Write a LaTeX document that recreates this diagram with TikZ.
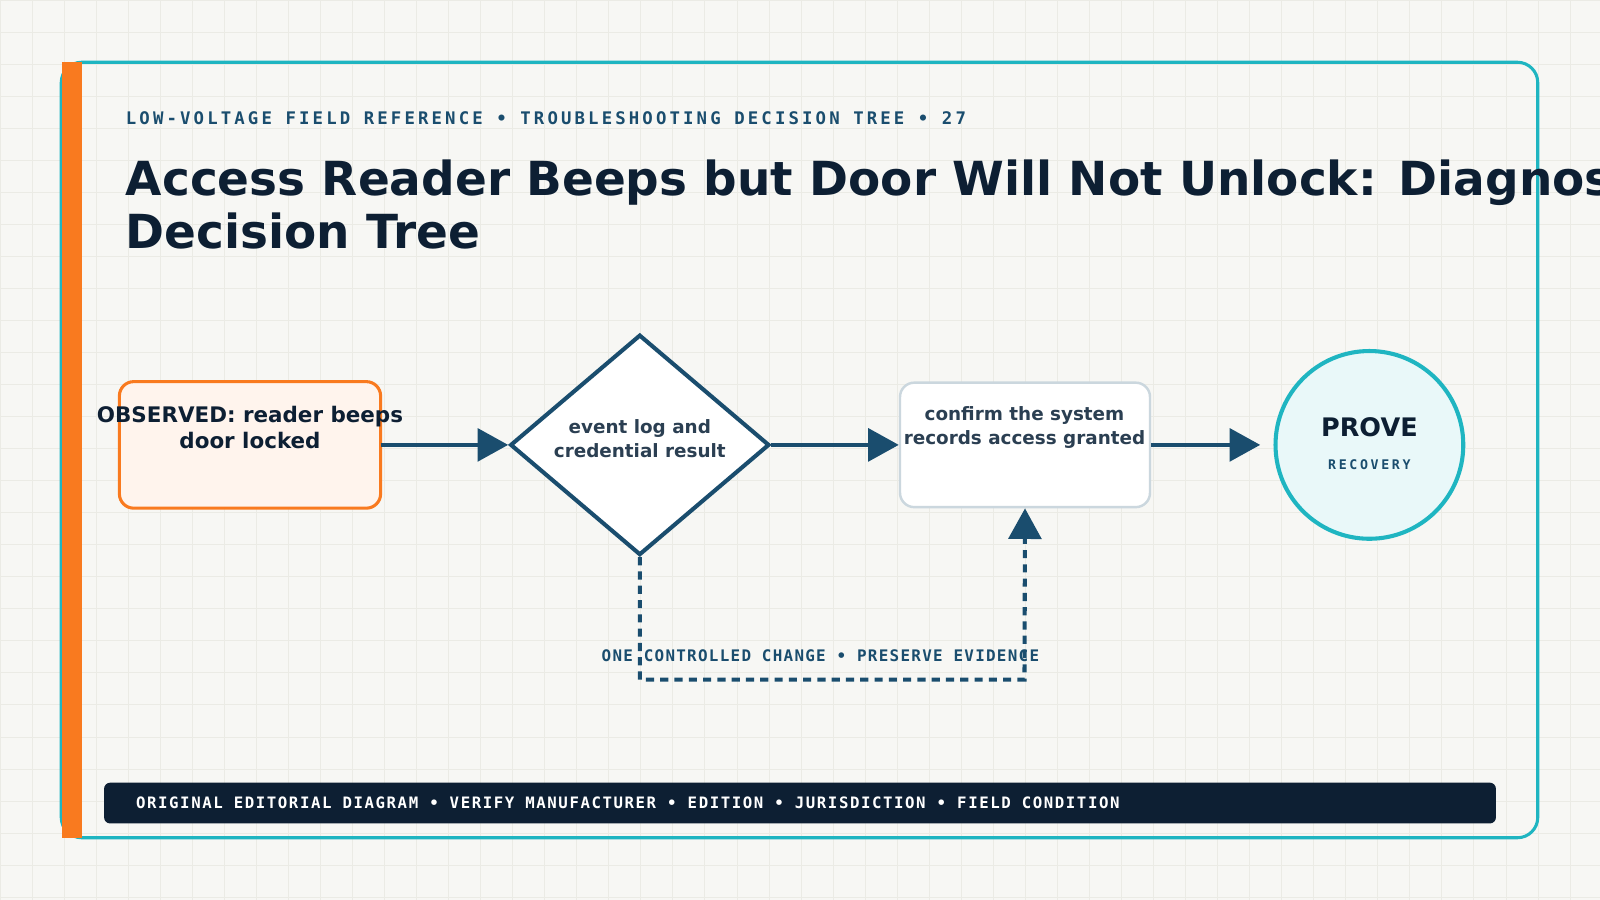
\documentclass[tikz,border=0pt]{standalone}
\usepackage{fontspec}
\setmainfont{DejaVu Sans}
\setmonofont{DejaVu Sans Mono}
\usetikzlibrary{shapes.geometric,arrows.meta}
\definecolor{bg}{HTML}{F7F7F4}
\definecolor{gridc}{HTML}{EBEBE5}
\definecolor{teal}{HTML}{1FB5C1}
\definecolor{orng}{HTML}{F97A1F}
\definecolor{navy}{HTML}{0D1F33}
\definecolor{blu}{HTML}{1A4D6E}
\definecolor{txt}{HTML}{2B3F52}
\definecolor{edge}{HTML}{CBD7DE}
\tikzset{
  conn/.style={draw=blu,line width=2pt,-{Triangle[length=15pt,width=16pt]}},
  dconn/.style={draw=blu,line width=2pt,dash pattern=on 4pt off 3pt,-{Triangle[length=15pt,width=16pt]}},
}
\begin{document}
\begin{tikzpicture}[x=0.5pt,y=-0.5pt]
\useasboundingbox (0,0) rectangle (1568,882);
\fill[bg] (0,0) rectangle (1568,882);
\foreach \i in {0,31.4,...,1568} \draw[gridc,line width=0.4pt] (\i,0)--(\i,882);
\foreach \j in {0,31.4,...,882} \draw[gridc,line width=0.4pt] (0,\j)--(1568,\j);
\draw[teal,line width=1.5pt,rounded corners=10pt] (60,61) rectangle (1507,821);
\fill[orng] (61,61) rectangle (80,821);
\node[anchor=base west,inner sep=0,text=blu,font=\ttfamily\bfseries\fontsize{8.5}{10}\selectfont\addfontfeature{LetterSpace=18}] (hdr) at (123,122) {LOW-VOLTAGE FIELD REFERENCE • TROUBLESHOOTING DECISION TREE • 27};
\node[anchor=base west,text=navy,font=\bfseries\fontsize{23}{26}\selectfont,inner sep=0] (t1) at (123,192) {Access Reader Beeps but Door Will Not Unlock: Diagnostic};
\node[anchor=base west,text=navy,font=\bfseries\fontsize{23}{26}\selectfont,inner sep=0] (t2) at (123,244) {Decision Tree};
\fill[navy,rounded corners=3pt] (102,767) rectangle (1466,807);
\node[anchor=base west,inner sep=0,text=white,font=\ttfamily\bfseries\fontsize{7.7}{9}\selectfont\addfontfeature{LetterSpace=10}] (ftr) at (133,792) {ORIGINAL EDITORIAL DIAGRAM • VERIFY MANUFACTURER • EDITION • JURISDICTION • FIELD CONDITION};
% nodes
\draw[orng,fill=orng!8,line width=1.5pt,rounded corners=7pt] (117,374) rectangle (373,498);
\coordinate (obsE) at (373,436);
\node[text=navy,font=\bfseries\fontsize{10.5}{13}\selectfont,align=center] (obs) at (245,419) {OBSERVED: reader beeps\\door locked};
\node[diamond,draw=blu,fill=white,line width=2pt,inner sep=0,minimum width=127pt,minimum height=108pt,aspect=1.18] (dia) at (627,436) {};
\node[text=txt,font=\bfseries\fontsize{9}{11.5}\selectfont,align=center] at (627,430) {event log and\\credential result};
\node[draw=edge,fill=white,line width=1.2pt,rounded corners=7pt,minimum width=122.5pt,minimum height=61pt] (conf) at (1004.5,436) {};
\node[text=txt,font=\bfseries\fontsize{9}{11.5}\selectfont,align=center] at (1004,419) {confirm the system\\records access granted};
\node[circle,draw=teal,fill=teal!10,line width=2pt,minimum size=92pt,inner sep=0] (prv) at (1342,436) {};
\node[text=navy,font=\bfseries\fontsize{12.5}{14}\selectfont] at (1342,419) {PROVE};
\node[text=blu,font=\ttfamily\bfseries\fontsize{6.5}{8}\selectfont\addfontfeature{LetterSpace=20}] at (1342,455) {RECOVERY};
\coordinate (pin) at (1235,436);
\draw[conn] (obsE)--(dia.west);
\draw[conn] (dia.east)--(conf.west);
\draw[conn] (conf.east)--(pin);
\coordinate (c1) at (627,666);
\coordinate (c2) at (1004,666);
\draw[dconn] (dia.south)--(c1)--(c2)--(conf.south);
\node[text=blu,font=\ttfamily\bfseries\fontsize{7.8}{9}\selectfont\addfontfeature{LetterSpace=8}] (lab) at (804,643) {ONE CONTROLLED CHANGE • PRESERVE EVIDENCE};
\end{tikzpicture}
\end{document}
